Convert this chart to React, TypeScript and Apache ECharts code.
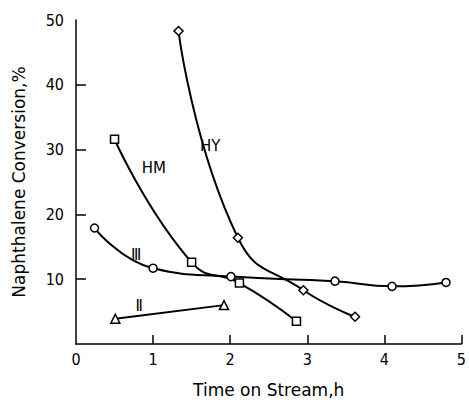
import React, { useEffect, useRef } from "react";
import * as echarts from "echarts";

const hyData: [number, number][] = [[1.33, 48.3], [2.1, 16.4], [2.95, 8.3], [3.62, 4.2]];
const hmData: [number, number][] = [[0.5, 31.6], [1.5, 12.6], [2.12, 9.4], [2.86, 3.5]];
const iiiData: [number, number][] = [[0.24, 17.9], [1.0, 11.7], [2.01, 10.4], [3.36, 9.7], [4.1, 8.9], [4.8, 9.5]];
const iiData: [number, number][] = [[0.51, 3.9], [1.92, 6.0]];

const seriesLabels = [
  { name: "HY", text: "HY", coord: [1.74, 30.5] },
  { name: "HM", text: "HM", coord: [1.01, 27.1] },
  { name: "III", text: "Ⅲ", coord: [0.78, 13.8] },
  { name: "II", text: "Ⅱ", coord: [0.82, 5.9] },
];

const xTicks = [0, 1, 2, 3, 4, 5];
const yTickLabels = [10, 20, 30, 40, 50];
const yTickMarks = [10, 20, 30, 40];

const FONT = "DejaVu Sans Condensed";
const TITLE_FONT = "DejaVu Sans";

export default function App() {
  const ref = useRef<HTMLDivElement>(null);
  useEffect(() => {
    const chart = echarts.init(ref.current!, null, { renderer: "svg" });
    const mk = (name: string, data: [number, number][], symbol: string, size: number, smooth: number | boolean) => {
      const lab = seriesLabels.find((l) => l.name === name)!;
      return {
        name,
        type: "line",
        data,
        smooth,
        symbol,
        symbolSize: size,
        showAllSymbol: true,
        color: "#000",
        lineStyle: { color: "#000", width: 2 },
        itemStyle: { color: "#fff", borderColor: "#000", borderWidth: 1.5 },
        z: 3,
        markPoint: {
          symbol: "circle",
          symbolSize: 0,
          silent: true,
          itemStyle: { color: "#000" },
          data: [
            {
              coord: lab.coord,
              label: {
                show: true,
                position: "inside",
                formatter: lab.text,
                color: "#000",
                textBorderWidth: 0,
                textBorderColor: "transparent",
                fontFamily: TITLE_FONT,
                fontSize: 15,
              },
            },
          ],
        },
      };
    };
    chart.setOption({
      animation: false,
      backgroundColor: "#fff",
      grid: { left: 76, right: 3, top: 20, bottom: 51 },
      xAxis: {
        type: "value",
        min: 0,
        max: 5,
        interval: 1,
        name: "Time on Stream,h",
        nameLocation: "middle",
        nameGap: 37,
        nameTextStyle: { color: "#000", fontFamily: TITLE_FONT, fontSize: 17 },
        axisLine: { lineStyle: { color: "#000", width: 1.5 } },
        axisTick: { inside: true, length: 9, lineStyle: { color: "#000", width: 1.5 }, customValues: xTicks.slice(1) },
        axisLabel: { color: "#000", fontFamily: FONT, fontSize: 16, margin: 7, customValues: xTicks },
        splitLine: { show: false },
      },
      yAxis: {
        type: "value",
        min: 0,
        max: 50,
        interval: 10,
        name: "Naphthalene Conversion,%",
        nameLocation: "middle",
        nameGap: 49,
        nameRotate: 90,
        nameTextStyle: { color: "#000", fontFamily: TITLE_FONT, fontSize: 17 },
        axisLine: { lineStyle: { color: "#000", width: 1.5 } },
        axisTick: { inside: true, length: 10, lineStyle: { color: "#000", width: 1.5 }, customValues: yTickMarks },
        axisLabel: { color: "#000", fontFamily: FONT, fontSize: 16, margin: 12, customValues: yTickLabels },
        splitLine: { show: false },
      },
      series: [
        mk("HY", hyData, "diamond", 9, 0.5),
        mk("HM", hmData, "rect", 8, 0.5),
        mk("III", iiiData, "circle", 8, 0.5),
        mk("II", iiData, "triangle", 9, false),
      ],
    });
    return () => chart.dispose();
  }, []);
  return <div ref={ref} style={{ width: 469, height: 403, position: "absolute", left: 0, top: 0 }} />;
}
